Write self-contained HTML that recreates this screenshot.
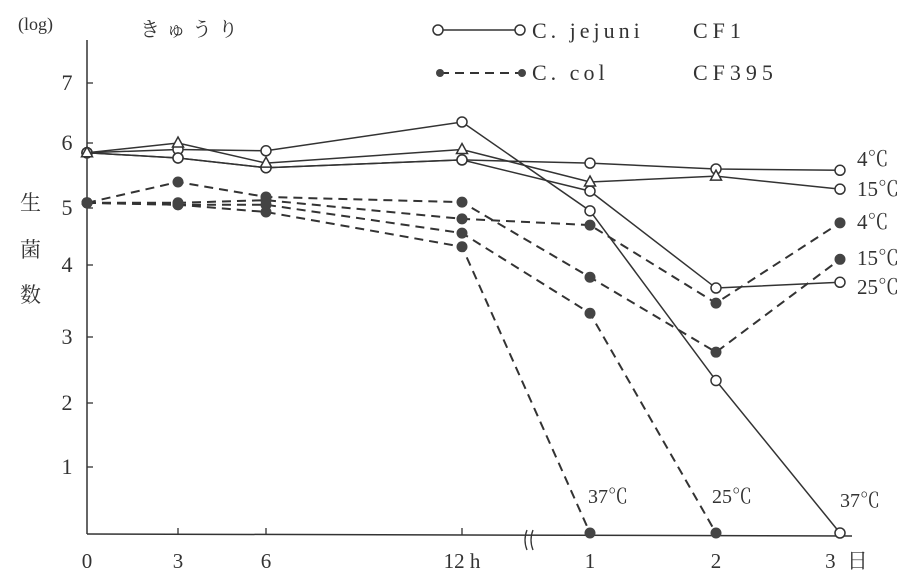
<!DOCTYPE html>
<html><head><meta charset="utf-8"><style>
html,body{margin:0;padding:0;background:#fff;}
svg{display:block;font-family:"Liberation Serif","Noto Serif CJK SC",serif;}
text{fill:#333;}
</style></head><body>
<svg id="chart" width="911" height="577" viewBox="0 0 911 577" xmlns="http://www.w3.org/2000/svg">
<g id="axes"></g>
<g id="series"></g>
<g id="labels"></g>
</svg>
<script>
const times=[0,3,6,12,24,48,72];
const xTickLabels=["0","3","6","12 h","1","2","3 日"];
const yTickLabels=["1","2","3","4","5","6","7"];
const jejuni4=[5.85,5.77,5.62,5.74,5.69,5.6,5.58];
const jejuni15=[5.85,6.0,5.69,5.9,5.4,5.49,5.29];
const jejuni25=[5.85,5.77,5.62,5.74,5.26,3.68,3.76];
const jejuni37=[5.85,5.9,5.88,6.35,4.95,2.34,0];
const coli4=[5.08,5.08,5.12,4.81,4.7,3.47,4.74];
const coli15=[5.08,5.4,5.17,5.09,3.83,2.77,4.1];
const coli25=[5.08,5.05,5.05,4.56,3.33,0];
const coli37=[5.08,5.05,4.93,4.32,0];

const NS="http://www.w3.org/2000/svg";
const xTime=[0,3,6,12,24,48,72], xPix=[87,178,266,462,590,716,840];
const yVal=[0,1,2,3,4,5,6,7], yPix=[533,467,403,337,265,208,143,83];
function interp(v,a,b){for(let i=0;i<a.length-1;i++){if(v<=a[i+1]||i==a.length-2){return b[i]+(v-a[i])/(a[i+1]-a[i])*(b[i+1]-b[i]);}}}
function x(t){return interp(t,xTime,xPix);}
function y(v){return interp(v,yVal,yPix);}
function mk(tag,attrs,parent){const e=document.createElementNS(NS,tag);for(const k in attrs)e.setAttribute(k,attrs[k]);parent.appendChild(e);return e;}
const axes=document.getElementById('axes'),ser=document.getElementById('series'),lab=document.getElementById('labels');
let e;
e=mk('line',{x1:87,y1:40,x2:87,y2:534,stroke:'#333','stroke-width':1.5},axes);


e=mk('line',{x1:87,y1:534,x2:852,y2:536,stroke:'#333','stroke-width':1.5},axes);


yTickLabels.forEach((l,i)=>{const v=i+1;
 e=mk('line',{x1:87,y1:y(v),x2:93,y2:y(v),stroke:'#333','stroke-width':1.3},axes);
 
 
 e=mk('text',{x:67,y:y(v)+7,'font-size':22,'text-anchor':'middle'},axes);e.textContent=l;
 
 
});
xTickLabels.forEach((l,i)=>{const px=x(times[i]);
 if(i>0){e=mk('line',{x1:px,y1:528,x2:px,y2:535,stroke:'#333','stroke-width':1.3},axes);
 
 }
 e=mk('text',{x:px+(i==6?8:0),y:568,'font-size':21,'text-anchor':'middle','letter-spacing':i==6?3:0},axes);e.textContent=l;
 
 
});
e=mk('path',{d:'M527 530 q-4 10 0 20 M533 530 q-4 10 0 20',stroke:'#333',fill:'none','stroke-width':1.3},axes);



function draw(vals,dashed,marker,name){
 const pts=vals.map((v,i)=>[x(times[i]),y(v)]);
 e=mk('polyline',{points:pts.map(p=>p.join(',')).join(' '),fill:'none',stroke:'#333','stroke-width':dashed?2:1.5,'stroke-dasharray':dashed?'9,6':'none'},ser);
 
 
 pts.forEach((p,i)=>{
  if(marker=='tri'&&i<pts.length-1){e=mk('path',{d:`M${p[0]} ${p[1]-6} L${p[0]+5.5} ${p[1]+4} L${p[0]-5.5} ${p[1]+4}Z`,fill:'#fff',stroke:'#333','stroke-width':1.5},ser);}
  else if(marker!='fill'){e=mk('circle',{cx:p[0],cy:p[1],r:5,fill:'#fff',stroke:'#333','stroke-width':1.5},ser);}
  else{e=mk('circle',{cx:p[0],cy:p[1],r:5.5,fill:'#444'},ser);}
  
  
 });
}
draw(coli4,true,'fill','coli-4c');draw(coli15,true,'fill','coli-15c');draw(coli25,true,'fill','coli-25c');draw(coli37,true,'fill','coli-37c');
draw(jejuni37,false,'open','jejuni-37c');draw(jejuni25,false,'open','jejuni-25c');draw(jejuni4,false,'open','jejuni-4c');draw(jejuni15,false,'tri','jejuni-15c');

function txt(s,xx,yy,size,name,ls){e=mk('text',{x:xx,y:yy,'font-size':size,'letter-spacing':ls||0},lab);e.textContent=s;
 
 }
txt('(log)',18,30,18,'y-unit');
txt('きゅうり',140,36,20,'chart-title',6);
txt('生',20,210,21,'y-axis-title-1');txt('菌',20,257,21,'y-axis-title-2');txt('数',20,302,21,'y-axis-title-3');
txt('4℃',857,166,21,'label-jejuni-4c');txt('15℃',857,196,21,'label-jejuni-15c');
txt('4℃',857,229,21,'label-coli-4c');txt('15℃',857,265,21,'label-coli-15c');txt('25℃',857,294,21,'label-jejuni-25c');
txt('37℃',588,503,20,'label-coli-37c');txt('25℃',712,503,20,'label-coli-25c');txt('37℃',840,507,20,'label-jejuni-37c');
e=mk('line',{x1:438,y1:30,x2:520,y2:30,stroke:'#333','stroke-width':1.5},lab);


[438,520].forEach(c=>{e=mk('circle',{cx:c,cy:30,r:5,fill:'#fff',stroke:'#333','stroke-width':1.5},lab);
 
 });
e=mk('line',{x1:440,y1:73,x2:522,y2:73,stroke:'#333','stroke-width':2,'stroke-dasharray':'9,6'},lab);


[440,522].forEach(c=>{e=mk('circle',{cx:c,cy:73,r:4,fill:'#444'},lab);
 
 });
txt('C. jejuni',532,38,22,'legend-jejuni-label',4);
txt('CF1',693,38,22,'legend-jejuni-strain',5);
txt('C. col',532,80,22,'legend-coli-label',4);
txt('CF395',693,80,22,'legend-coli-strain',5);
</script>
</body></html>
